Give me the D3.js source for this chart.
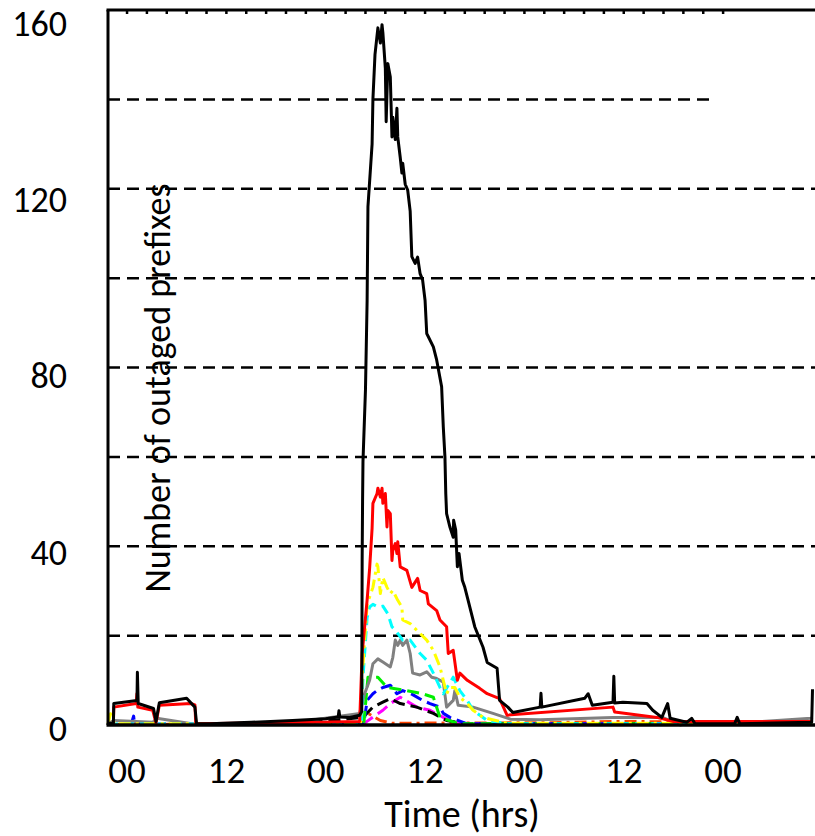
<!DOCTYPE html>
<head>
  <meta charset="utf-8">
  <title>Number of outaged prefixes</title>
  <script src="https://d3js.org/d3.v7.min.js"></script>
  <style>
    body { margin: 0; background: #fff; }
    text { font-family: Calibri, Carlito, "Open Sans", sans-serif; fill: #000; }
  </style>
</head>
<body>
<script>

  // hours since first 00, value
  let total = [[-2.3,0.4],[-1.65,0.4],[-1.6,4.8],[1.2,5.5],[1.25,11.8],[1.35,4.8],[3.2,3.7],[3.5,0.8],[3.9,5],[7.2,6],[8.2,4],[8.4,0.3],
    [10,0.3],[15,0.6],[20,1.0],[24,1.4],[25.5,1.8],[25.6,3.2],[25.7,1.8],[26.9,1.7],[28.1,2.2],[28.35,3],[28.4,37],[28.45,50],[28.5,59],
    [28.8,75],[29.0,95],[29.1,116],[29.6,130],[29.7,140],[29.95,150],[30.3,156],[30.6,152.6],[30.8,156.7],[30.9,155],[31.2,147],[31.3,135],
    [31.5,148],[31.8,145],[32.0,131.6],[32.1,136],[32.4,131],[32.6,138],[32.7,131.6],[33.0,127],[33.2,123.5],[33.3,125.7],[33.6,121],
    [33.9,119.7],[34.2,115],[34.4,104.8],[34.8,103.3],[35.1,104.7],[35.4,101],[35.7,99.6],[36.0,95],[36.2,87.6],[37.0,84.6],[37.4,81.7],
    [38.0,75.7],[38.2,66.7],[38.4,60],[38.5,51.8],[38.6,47.3],[39.0,44.3],[39.4,42],[39.45,45.8],[39.7,43.6],[39.9,35.4],[40.1,38.4],
    [40.5,32.4],[40.8,30.8],[41.2,27.9],[42.0,22],[43.0,17.4],[43.5,14],[44.7,12.7],[45.0,5.5],[46.0,4],[46.6,2.8],[49.9,4],[50.0,7.1],
    [50.1,4],[55.3,6],[55.7,7],[56.2,4.4],[58.7,5.1],[58.8,10.9],[58.9,4.9],[59.9,5.1],[62.8,4.8],[63.5,3.3],[64.6,1.7],[65.3,4.8],
    [65.6,1.5],[67.6,0.6],[68.2,1.5],[68.6,0.3],[73.4,0.3],[73.7,1.7],[74.0,0.3],[82.7,0.6],[82.8,8]];

  let red = [[-2.3,0.3],[-1.65,0.3],[-1.6,4],[1.1,4.8],[1.2,7],[1.3,4],[3.1,3.3],[3.5,0.5],[3.9,4.4],[7.7,4.8],[8.2,4.5],[8.3,0.3],
    [20,0.5],[28.1,0.8],[28.4,16],[29.0,28],[29.3,35],[29.6,44],[29.7,49.6],[30.2,51.8],[30.3,53],[30.6,51],[30.8,53],[30.9,49.6],
    [31.2,51.8],[31.4,44.3],[31.5,48],[31.8,47.3],[32.0,36.8],[32.1,39],[32.4,40.6],[32.6,38.4],[32.7,41],[33.0,35.4],[33.8,34.6],
    [34.4,30.8],[35.1,32.8],[35.4,30.1],[36.2,29.4],[36.4,27.1],[37.4,25.6],[37.8,23.5],[38.6,22],[38.8,16],[39.4,16.7],[39.9,10],
    [40.2,11.6],[41.1,10],[42.6,8.2],[43.5,7],[45.0,5.9],[45.9,2.2],[58.7,4.0],[58.9,2.9],[64.0,1.7],[66,0.8],[82.8,0.8]];

  let yellow = [[-2.3,0.3],[-2.0,2.5],[-1.5,0.3],[28.2,0.3],[28.4,10.7],[29.0,27],[29.7,30.8],[30.2,36],[30.3,35.4],[30.6,29.4],[30.9,33],
    [31.4,30.8],[31.8,29.4],[32.1,30.1],[32.7,27.9],[33.2,26.4],[33.3,23.5],[34.2,22.7],[35.0,21.2],[36.2,19],[37.0,16.7],[37.8,13],
    [38.2,10],[38.6,7],[39.0,8.4],[39.6,8.4],[40.2,6.2],[41.1,4.8],[41.8,3.3],[43.0,1.7],[45.9,0.4],[82.8,0.4]];

  let cyan = [[-2.3,0.2],[28.3,0.3],[28.5,10.7],[29.0,24],[29.3,26.4],[29.7,27],[30.3,26.4],[30.9,26.6],[31.5,24.9],[32.0,22],[32.4,21.2],
    [32.7,20.5],[33.3,19],[34.2,19],[35.4,16],[36.2,14.5],[37.0,11.6],[37.8,8.4],[38.2,7],[39.4,10.7],[40.2,7.7],[41.1,5.5],
    [41.8,3.3],[43.5,1],[46,0.3],[82.8,0.3]];

  let gray = [[-2.3,0.3],[-1.6,1],[3.1,0.6],[3.6,1.5],[8.0,0.2],[20,0.5],[28.1,2.6],[28.7,7],[29.3,10],[29.7,13.7],[30.3,14.8],[30.9,14.1],
    [31.8,13],[32.1,15.1],[32.4,19],[32.7,17.8],[33.0,19],[33.3,17.8],[33.8,19],[34.2,16],[34.5,11.6],[35.4,11.2],[36.2,11.9],
    [36.8,10.7],[37.4,10.4],[38.2,9.6],[38.6,4],[39.4,5.5],[39.6,7.7],[40.0,4.4],[41.8,4],[44.2,2.6],[46.3,1.3],[49.9,1.2],
    [58.7,1.7],[64.7,1.7],[66.8,0],[68.4,0.6],[73.7,0.4],[82.6,1.5],[82.8,1.7]];

  let green = [[20,0.2],[28.6,0.3],[29.1,10.7],[30.3,10.7],[31.4,8.4],[33.8,7.7],[35.7,7],[37.0,6.2],[37.8,1.7],[40,0.3],[82.8,0.3]];

  let blue = [[0.5,0.2],[0.8,2],[0.9,0.2],[28.6,0.3],[29.0,5.5],[29.7,7],[30.2,7.7],[30.9,8.4],[31.8,8.9],[32.6,7],[33.3,7.7],[34.5,6.8],
    [35.7,5.5],[36.6,4.8],[37.8,4],[38.2,2.6],[39.0,1.7],[41,0.3],[82.8,0.3]];

  let blackDash = [[20,0.2],[28.5,1.7],[29.7,4],[30.9,5.1],[31.8,5.9],[33.0,4.8],[35.0,4],[37.0,2.6],[38.6,1],[41,0.3],[82.8,0.2]];

  let magenta = [[28.5,0.2],[30.9,3.3],[31.8,4.8],[33.0,6.2],[35.0,4],[36.6,3.3],[38.2,1.7],[39.0,1],[41,0.2],[82.8,0.2]];

  let orange = [[-2.3,0.1],[28.3,0.3],[28.5,1.7],[29.1,2.6],[30.6,1],[32,0.4],[50,0.5],[60,0.8],[82.8,0.4]];

  let seriesList = [
    {name: "orange", data: orange, color: "#ff4500", dash: "12,5,3,5"},
    {name: "magenta", data: magenta, color: "#ff00ff", dash: "12,6"},
    {name: "blackDash", data: blackDash, color: "#000000", dash: "12,6"},
    {name: "blue", data: blue, color: "#0000ff", dash: "12,6"},
    {name: "green", data: green, color: "#00ee00", dash: "12,6"},
    {name: "gray", data: gray, color: "#808080", dash: null},
    {name: "cyan", data: cyan, color: "#00ffff", dash: "10,6"},
    {name: "yellow", data: yellow, color: "#ffff00", dash: "12,5,3,5"},
    {name: "red", data: red, color: "#ff0000", dash: null},
    {name: "total", data: total, color: "#000000", dash: null}
  ];

  let yTicks = [0, 40, 80, 120, 160];
  let gridValues = [20, 40, 60, 80, 100, 120, 140];
  let xTickHours = [0, 12, 24, 36, 48, 60, 72];
  let xTickLabels = ["00", "12", "00", "12", "00", "12", "00"];

  let width = 815;
  let height = 836;
  let margin = {top: 10, right: 0, bottom: 111, left: 108};

  let svg = d3.select("body").append("svg")
      .attr("width", width)
      .attr("height", height);

  let x = d3.scaleLinear().domain([-2.3, 83.1]).range([margin.left, width - margin.right]);
  let y = d3.scaleLinear().domain([0, 160]).range([height - margin.bottom, margin.top]);
  // tick labels sit a bit low, more so near the top
  let yLabel = d3.scaleLinear().domain([0, 160]).range([729, 24]);

  // dashed gridlines
  svg.append("g")
    .selectAll("line")
    .data(gridValues)
    .enter()
    .append("line")
    .attr("x1", x(-2.3))
    .attr("x2", function(d){ return d === 140 ? x(71.1) : x(83.1); })
    .attr("y1", function(d){ return y(d); })
    .attr("y2", function(d){ return y(d); })
    .style("stroke", "#000")
    .style("stroke-width", "2.5px")
    .style("stroke-dasharray", "12,7");

  // top minor ticks every 0.1 day
  svg.append("g")
    .selectAll("line")
    .data(d3.range(0, 72.01, 2.4))
    .enter()
    .append("line")
    .attr("x1", function(d){ return x(d); })
    .attr("x2", function(d){ return x(d); })
    .attr("y1", y(160))
    .attr("y2", y(160) + 4)
    .style("stroke", "#000")
    .style("stroke-width", "2.5px");

  // series
  let line = d3.line()
    .x(function(d){ return x(d[0]); })
    .y(function(d){ return y(d[1]); });

  svg.append("g")
    .selectAll("path")
    .data(seriesList)
    .enter()
    .append("path")
    .attr("d", function(d){ return line(d.data); })
    .style("fill", "none")
    .style("stroke", function(d){ return d.color; })
    .style("stroke-width", "3px")
    .style("stroke-linejoin", "round")
    .style("stroke-dasharray", function(d){ return d.dash; });

  // frame
  svg.append("line")
    .attr("x1", x(-2.3)).attr("x2", x(-2.3))
    .attr("y1", y(160)).attr("y2", y(0))
    .style("stroke", "#000").style("stroke-width", "3px");
  svg.append("line")
    .attr("x1", x(-2.3) - 1.5).attr("x2", width)
    .attr("y1", y(160)).attr("y2", y(160))
    .style("stroke", "#000").style("stroke-width", "3px");
  svg.append("line")
    .attr("x1", x(-2.3) - 1.5).attr("x2", width)
    .attr("y1", y(0)).attr("y2", y(0))
    .style("stroke", "#000").style("stroke-width", "3.5px");

  // y tick labels
  svg.append("g")
    .selectAll("text")
    .data(yTicks)
    .enter()
    .append("text")
    .attr("x", 67)
    .attr("y", function(d){ return yLabel(d); })
    .attr("dy", "0.33em")
    .attr("text-anchor", "end")
    .style("font-size", "36px")
    .text(function(d){ return d; });

  // x tick labels
  svg.append("g")
    .selectAll("text")
    .data(xTickHours)
    .enter()
    .append("text")
    .attr("x", function(d){ return x(d); })
    .attr("y", 771)
    .attr("dy", "0.33em")
    .attr("text-anchor", "middle")
    .style("font-size", "37px")
    .text(function(d, i){ return xTickLabels[i]; });

  svg.append("text")
    .attr("x", 462)
    .attr("y", 814)
    .attr("dy", "0.33em")
    .attr("text-anchor", "middle")
    .style("font-size", "38px")
    .text("Time (hrs)");

  svg.append("text")
    .attr("transform", "translate(158,388) rotate(-90)")
    .attr("dy", "0.33em")
    .attr("text-anchor", "middle")
    .style("font-size", "36px")
    .text("Number of outaged prefixes");

</script>
</body>
